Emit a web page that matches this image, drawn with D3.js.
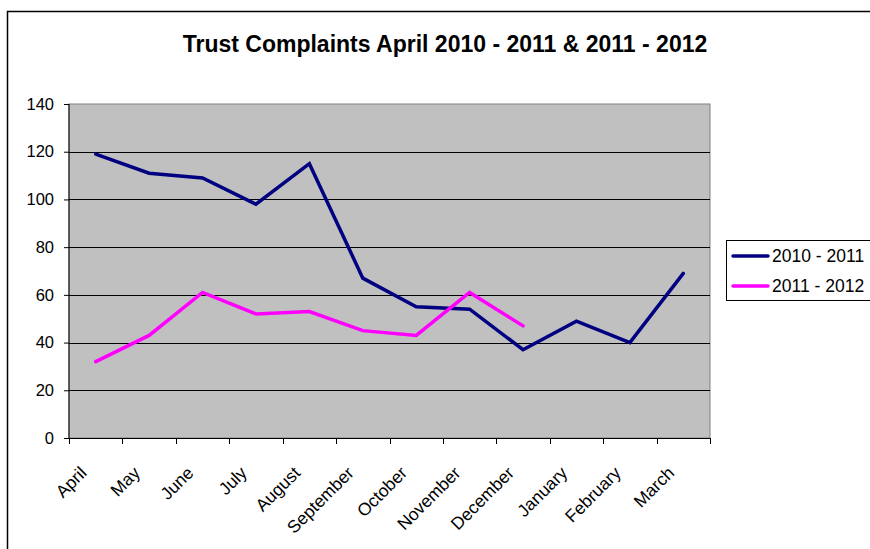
<!DOCTYPE html>
<html>
<head>
<meta charset="utf-8">
<script src="https://cdn.jsdelivr.net/npm/d3@7"></script>
<style>
  html, body { margin: 0; padding: 0; background: #fff; }
  svg { display: block; font-family: "Liberation Sans", Arial, sans-serif; }
</style>
</head>
<body>
<svg id="chart" width="870" height="549"></svg>
<script>
// Monthly complaint counts, financial year April–March
const months = ["April", "May", "June", "July", "August", "September",
                "October", "November", "December", "January", "February", "March"];
const series2010 = [119, 111, 109, 98, 115, 67, 55, 54, 37, 49, 40, 69];
const series2011 = [32, 43, 61, 52, 53, 45, 43, 61, 47];
const yTicks = [0, 20, 40, 60, 80, 100, 120, 140];
const seriesNames = ["2010 - 2011", "2011 - 2012"];
const seriesColors = ["#000080", "#FF00FF"];
const chartTitle = "Trust Complaints April 2010 - 2011 & 2011 - 2012";

const svg = d3.select("#chart");

// outer chart frame (runs off the right and bottom edges)
svg.append("rect")
  .attr("x", 7.5).attr("y", 11.5)
  .attr("width", 900).attr("height", 600)
  .attr("fill", "#fff").attr("stroke", "#000").attr("stroke-width", 1.5);

const plot = { left: 69, right: 710, top: 104, bottom: 438 };

const x = d3.scaleBand().domain(months).range([plot.left, plot.right]).padding(0);
const y = d3.scaleLinear().domain([0, 140]).range([plot.bottom, plot.top]);

// plot background
svg.append("rect")
  .attr("x", plot.left).attr("y", plot.top)
  .attr("width", plot.right - plot.left).attr("height", plot.bottom - plot.top)
  .attr("fill", "#C0C0C0").attr("stroke", "#808080").attr("stroke-width", 1);

// horizontal gridlines
svg.append("g")
  .selectAll("line")
  .data(yTicks.filter(d => d > 0 && d < 140))
  .join("line")
  .attr("x1", plot.left).attr("x2", plot.right)
  .attr("y1", d => Math.round(y(d)) + 0.5).attr("y2", d => Math.round(y(d)) + 0.5)
  .attr("stroke", "#000").attr("stroke-width", 1);

// y axis
const yAxis = svg.append("g")
  .attr("transform", `translate(${plot.left},0)`)
  .call(d3.axisLeft(y).tickValues(yTicks).tickSize(5).tickPadding(10));
yAxis.selectAll("text").attr("font-size", 16.5).attr("fill", "#000")
  .attr("font-family", "Liberation Sans, Arial, sans-serif");
yAxis.selectAll("line, path").attr("stroke", "#000");
yAxis.select(".domain").attr("d", `M0,${plot.top}V${plot.bottom}`);

// x axis: ticks on the band boundaries
const xAxisG = svg.append("g").attr("transform", `translate(0,${plot.bottom})`);
xAxisG.append("line")
  .attr("x1", plot.left - 5).attr("x2", plot.right)
  .attr("y1", 0.5).attr("y2", 0.5).attr("stroke", "#000");
const boundaries = months.map(m => x(m)).concat([plot.right]);
xAxisG.selectAll("line.tick")
  .data(boundaries)
  .join("line")
  .attr("class", "tick")
  .attr("x1", d => Math.round(d) + 0.5).attr("x2", d => Math.round(d) + 0.5)
  .attr("y1", 0).attr("y2", 6)
  .attr("stroke", "#000");
xAxisG.selectAll("text")
  .data(months)
  .join("text")
  .attr("transform", d => `translate(${x(d) + x.bandwidth() / 2 - 8},${36}) rotate(-45)`)
  .attr("text-anchor", "end")
  .attr("font-size", 17.5)
  .attr("fill", "#000")
  .text(d => d);

// series lines
const line = d3.line()
  .x((d, i) => x(months[i]) + x.bandwidth() / 2)
  .y(d => y(d));

[series2010, series2011].forEach((s, k) => {
  svg.append("path")
    .datum(s)
    .attr("d", line)
    .attr("fill", "none")
    .attr("stroke", seriesColors[k])
    .attr("stroke-width", 3.5)
    .attr("stroke-linejoin", "miter")
    .attr("stroke-linecap", "round");
});

// title
svg.append("text")
  .attr("x", 445).attr("y", 52)
  .attr("text-anchor", "middle")
  .attr("font-size", 23)
  .attr("font-weight", "bold")
  .attr("fill", "#000")
  .text(chartTitle);

// legend
const legend = svg.append("g");
legend.append("rect")
  .attr("x", 726.5).attr("y", 240.5)
  .attr("width", 200).attr("height", 60)
  .attr("fill", "#fff").attr("stroke", "#000").attr("stroke-width", 1);
seriesNames.forEach((name, k) => {
  const cy = 256 + k * 30;
  legend.append("line")
    .attr("x1", 733).attr("x2", 768)
    .attr("y1", cy).attr("y2", cy)
    .attr("stroke", seriesColors[k]).attr("stroke-width", 3.5)
    .attr("stroke-linecap", "round");
  legend.append("text")
    .attr("x", 772).attr("y", cy)
    .attr("dy", "0.36em")
    .attr("font-size", 17.5)
    .attr("fill", "#000")
    .text(name);
});
</script>
</body>
</html>
